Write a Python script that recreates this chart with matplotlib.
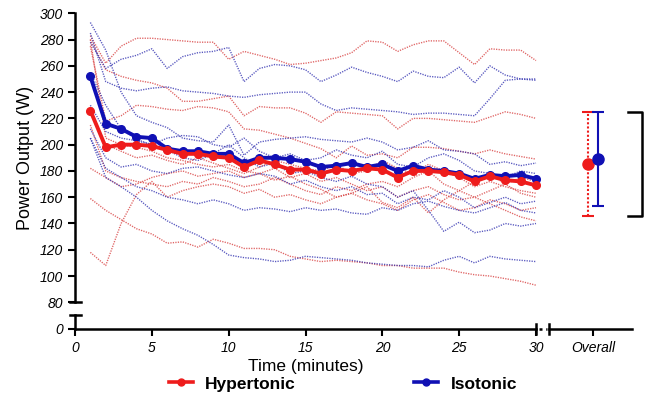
import numpy as np
import matplotlib
matplotlib.use("Agg")
import matplotlib.pyplot as plt
from matplotlib.lines import Line2D

plt.rcParams['font.family'] = ['Liberation Sans', 'DejaVu Sans']

# time points (minutes)
time = list(range(1, 31))

# group means
hyper_mean = [226, 198, 200, 200, 199, 196, 193, 193, 191, 190, 183, 188, 185, 181, 181,
              178, 181, 180, 182, 181, 175, 180, 180, 179, 177, 172, 176, 173, 172, 169]
iso_mean = [252, 216, 212, 206, 205, 197, 195, 195, 193, 193, 186, 190, 190, 189, 187,
            183, 184, 186, 183, 185, 180, 184, 181, 180, 178, 174, 177, 176, 177, 174]

# individual participants, hypertonic
hyper_ind = [
    [283, 262, 275, 281, 281, 280, 279, 278, 278, 265, 271, 268, 265, 261, 262,
     264, 266, 270, 279, 278, 271, 276, 279, 279, 270, 261, 273, 272, 272, 264],
    [280, 257, 252, 249, 247, 243, 233, 233, 235, 237, 222, 229, 228, 228, 224,
     217, 225, 224, 223, 222, 212, 220, 220, 219, 218, 217, 221, 225, 223, 220],
    [275, 218, 222, 230, 229, 227, 226, 229, 228, 225, 212, 211, 208, 205, 201,
     197, 190, 199, 192, 193, 190, 198, 198, 197, 195, 193, 196, 193, 191, 189],
    [159, 150, 143, 136, 132, 125, 126, 122, 128, 125, 121, 121, 120, 115, 113,
     111, 112, 111, 110, 108, 108, 106, 106, 106, 103, 101, 100, 98, 96, 93],
    [118, 108, 140, 162, 172, 160, 165, 168, 170, 168, 163, 166, 160, 162, 158,
     155, 160, 163, 158, 155, 150, 158, 162, 156, 150, 152, 158, 155, 150, 152],
    [280, 205, 200, 198, 195, 190, 188, 185, 183, 185, 180, 178, 182, 175, 178,
     172, 175, 170, 165, 168, 160, 165, 168, 162, 158, 160, 165, 170, 163, 160],
    [215, 180, 175, 172, 170, 168, 172, 170, 175, 172, 168, 170, 175, 170, 165,
     162, 168, 165, 170, 172, 168, 175, 180, 170, 165, 172, 178, 170, 175, 172],
    [182, 175, 168, 170, 175, 178, 180, 176, 178, 180, 175, 178, 173, 176, 170,
     166, 160, 163, 168, 156, 152, 160, 148, 158, 165, 160, 155, 150, 145, 142],
    [225, 200, 195, 190, 192, 188, 185, 190, 186, 182, 178, 183, 188, 185, 182,
     180, 185, 178, 180, 188, 182, 178, 185, 180, 175, 168, 172, 168, 165, 163],
]

# individual participants, isotonic
iso_ind = [
    [278, 258, 265, 268, 273, 258, 267, 270, 271, 274, 248, 258, 261, 260, 257,
     248, 253, 259, 255, 252, 248, 256, 252, 251, 259, 247, 260, 253, 250, 250],
    [285, 248, 243, 241, 243, 244, 241, 240, 239, 237, 236, 238, 239, 240, 240,
     231, 226, 228, 227, 226, 225, 223, 224, 224, 223, 222, 235, 249, 250, 249],
    [293, 272, 240, 222, 217, 213, 205, 203, 202, 215, 192, 202, 204, 205, 206,
     204, 203, 202, 205, 202, 196, 198, 203, 196, 195, 193, 185, 187, 184, 186],
    [230, 210, 205, 203, 200, 196, 190, 188, 193, 200, 190, 183, 186, 178, 180,
     175, 172, 176, 170, 168, 160, 165, 150, 134, 141, 133, 135, 140, 138, 140],
    [212, 190, 183, 185, 180, 178, 182, 183, 180, 177, 175, 178, 176, 170, 173,
     168, 165, 168, 162, 163, 155, 160, 158, 165, 160, 152, 156, 160, 155, 157],
    [205, 182, 175, 168, 165, 160, 158, 155, 158, 155, 150, 152, 151, 149, 152,
     150, 151, 148, 147, 152, 150, 155, 157, 153, 150, 148, 152, 156, 150, 148],
    [255, 230, 212, 204, 200, 205, 207, 206, 200, 198, 205, 195, 190, 193, 188,
     190, 196, 192, 190, 195, 185, 183, 190, 193, 188, 180, 178, 175, 180, 178],
    [205, 175, 168, 160, 150, 142, 136, 131, 124, 116, 114, 113, 111, 112, 115,
     114, 113, 112, 110, 109, 108, 108, 107, 112, 115, 110, 115, 113, 112, 111],
]

# overall mean and range
groups = ['Hypertonic', 'Isotonic']
overall_mean = [185, 189]
overall_low = [146, 153]
overall_high = [225, 225]

red = '#ee1c1c'
blue = '#1010b4'
red_thin = '#d84040'
blue_thin = '#3030b0'

W, H = 650, 400
fig = plt.figure(figsize=(6.5, 4), dpi=100)


def fx(px):
    return px / W


def fy(py):
    return 1 - py / H


# main (time) panel, upper part of the broken y axis
ax = fig.add_axes([fx(75), fy(302.3), fx(536) - fx(75), fy(13.3) - fy(302.3)])
ax.set_xlim(0, 30)
ax.set_ylim(80, 300)
for s in ['top', 'right', 'bottom']:
    ax.spines[s].set_visible(False)
ax.spines['left'].set_linewidth(1.8)
ax.set_xticks([])
ax.set_yticks(np.arange(80, 301, 20))
ax.tick_params(axis='y', length=5, width=1.5, labelsize=10)
for lab in ax.get_yticklabels():
    lab.set_fontstyle('italic')
ax.set_ylabel('Power Output (W)', fontsize=13, labelpad=4)

for row in hyper_ind:
    ax.plot(time, row, color=red_thin, lw=1.0, ls=(0, (0.9, 0.9)), alpha=0.8, clip_on=False)
for row in iso_ind:
    ax.plot(time, row, color=blue_thin, lw=1.0, ls=(0, (0.9, 0.9)), alpha=0.8, clip_on=False)
ax.plot(time, iso_mean, color=blue, lw=2.8, marker='o', ms=5.5, clip_on=False, zorder=5)
ax.plot(time, hyper_mean, color=red, lw=2.8, marker='o', ms=5.5, clip_on=False, zorder=6)

# lower part of the broken y axis, carries the time axis
axl = fig.add_axes([fx(75), fy(329), fx(536) - fx(75), fy(315) - fy(329)])
axl.set_xlim(0, 30)
axl.set_ylim(0, 14 / 1.3135)
for s in ['top', 'right']:
    axl.spines[s].set_visible(False)
axl.spines['left'].set_linewidth(1.8)
axl.spines['bottom'].set_linewidth(1.8)
axl.set_yticks([0])
axl.set_xticks(np.arange(0, 31, 5))
axl.tick_params(length=5, width=1.5, labelsize=10)
for lab in axl.get_yticklabels() + axl.get_xticklabels():
    lab.set_fontstyle('italic')
axl.set_xlabel('Time (minutes)', fontsize=12.5, labelpad=3)

# overall panel
axo = fig.add_axes([fx(549), fy(302.3), fx(632) - fx(549), fy(13.3) - fy(302.3)])
axo.set_xlim(0, 1)
axo.set_ylim(80, 300)
axo.axis('off')
ox = [0.47, 0.59]
for i, (c, ls) in enumerate([(red, ':'), (blue, '-')]):
    m = overall_mean[i]
    eb = axo.errorbar(ox[i], m, yerr=[[m - overall_low[i]], [overall_high[i] - m]],
                      fmt='o', color=c, ms=8, capsize=4, elinewidth=1.5, capthick=1.5)
    if ls == ':':
        eb[2][0].set_linestyle((0, (1, 1)))
axo.plot([0.95, 1.12, 1.12, 0.95], [225, 225, 145.5, 145.5], color='black', lw=1.8,
         clip_on=False)

axol = fig.add_axes([fx(549), fy(329), fx(632) - fx(549), fy(315) - fy(329)])
axol.set_xlim(0, 1)
axol.set_ylim(0, 1)
for s in ['top', 'right', 'left']:
    axol.spines[s].set_visible(False)
axol.spines['bottom'].set_linewidth(1.8)
axol.set_yticks([])
axol.set_xticks([0.53])
axol.set_xticklabels(['Overall'], fontstyle='italic')
axol.tick_params(length=5, width=1.5, labelsize=10)

# axis break marks
def seg(x0, y0, x1, y1, lw=1.8, ls='-'):
    fig.add_artist(Line2D([fx(x0), fx(x1)], [fy(y0), fy(y1)], color='black', lw=lw,
                          ls=ls, transform=fig.transFigure))


seg(70, 302.3, 81, 302.3)
seg(70, 315, 81, 315)
seg(536, 324, 536, 334)
seg(549, 324, 549, 334)
seg(539, 329, 547, 329, lw=1.8, ls=(0, (1.2, 1.5)))

handles = [Line2D([], [], color=red, lw=2.6, marker='o', ms=5),
           Line2D([], [], color=blue, lw=2.6, marker='o', ms=5)]
fig.legend(handles, groups, loc='center', bbox_to_anchor=(fx(343), fy(384)), ncol=2,
           frameon=False, prop={'weight': 'bold', 'size': 12.5}, handlelength=1.4,
           columnspacing=6.8, handletextpad=0.7)

fig.savefig('out.png', dpi=100)
